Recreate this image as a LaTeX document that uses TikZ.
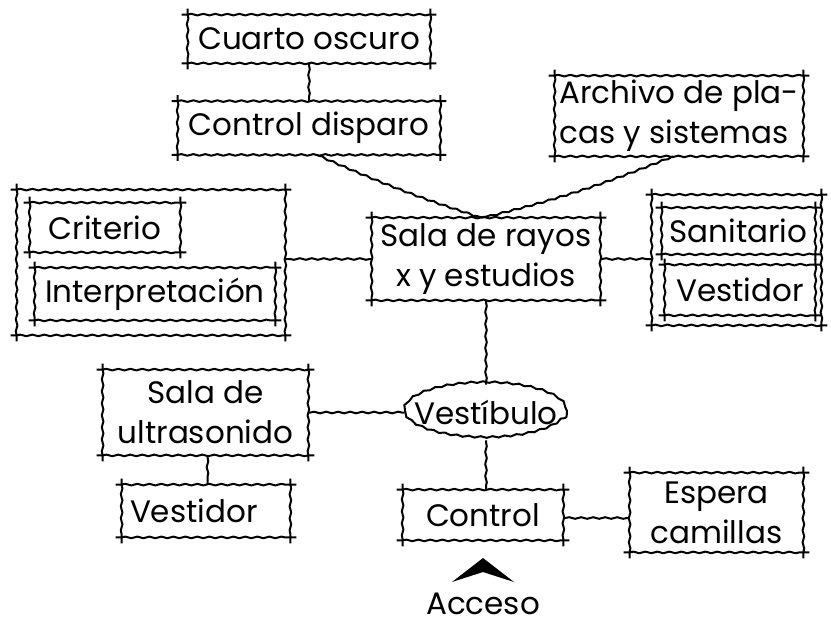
\documentclass[tikz,border=0pt]{standalone}
\usepackage{fontspec}
\setmainfont{Poppins}
\usetikzlibrary{decorations.pathmorphing}

\begin{document}
\begin{tikzpicture}[
  x=0.5pt, y=-0.5pt,
  wavy/.style={decorate, decoration={snake, amplitude=0.4pt, segment length=6pt, pre length=3pt, post length=3pt}, line width=1pt},
  link/.style={decorate, decoration={snake, amplitude=0.4pt, segment length=6pt, pre length=1pt, post length=1pt}, line width=1pt},
  room/.style={rectangle, inner sep=2pt, align=center, font=\fontsize{15.5}{20}\selectfont,
    append after command={
      \pgfextra{\let\fr=\tikzlastnode}
      ([xshift=-3pt]\fr.north west) edge[wavy] ([xshift=3pt]\fr.north east)
      ([xshift=-3pt]\fr.south west) edge[wavy] ([xshift=3pt]\fr.south east)
      ([yshift=3pt]\fr.north west) edge[wavy] ([yshift=-3pt]\fr.south west)
      ([yshift=3pt]\fr.north east) edge[wavy] ([yshift=-3pt]\fr.south east)
    }},
  label/.style={inner sep=2pt, font=\fontsize{15.5}{20}\selectfont},
]
  \useasboundingbox (0,0) rectangle (831,629);

  % top branch
  \node[room, minimum width=121pt, minimum height=24pt] (cuarto) at (309,39) {Cuarto oscuro};
  \node[room, minimum width=131pt, minimum height=26.5pt] (disparo) at (309,128) {Control disparo};
  \node[room, minimum width=124pt, minimum height=40pt, align=left] (archivo) at (679,116) {Archivo de pla-\\cas y sistemas};

  % central room
  \node[room, minimum width=114pt, minimum height=41pt] (rayos) at (486,259) {Sala de rayos\\x y estudios};

  % side groups
  \node[room, minimum width=134pt, minimum height=72.5pt] (lado1) at (151,262.5) {};
  \node[room, minimum width=75pt, minimum height=24.5pt] (criterio) at (105,227.5) {Criterio};
  \node[room, minimum width=120pt, minimum height=26pt] (interp) at (155,294) {Interpretación};
  \node[room, minimum width=84.5pt, minimum height=65pt] (lado2) at (736.5,260) {};
  \node[room, minimum width=76.5pt, minimum height=23pt] (sanitario) at (738.5,231) {Sanitario};
  \node[room, minimum width=75pt, minimum height=25pt] (vest2) at (740,290) {Vestidor};

  % lower part
  \node[label, minimum width=81pt, minimum height=27.5pt] (vestibulo) at (486,412.5) {Vestíbulo};
  \draw[link] (vestibulo.center) ellipse [x radius=40.5pt, y radius=13.75pt];
  \node[room, minimum width=102.5pt, minimum height=42.5pt] (ultra) at (205.5,412.5) {Sala de\\ultrasonido};
  \node[room, minimum width=84pt, minimum height=26pt, text width=76pt, align=left] (vest1) at (206,511) {Vestidor};
  \node[room, minimum width=80pt, minimum height=25pt] (control) at (483,515) {Control};
  \node[room, minimum width=86.5pt, minimum height=39.5pt] (espera) at (716.5,512.5) {Espera\\camillas};

  % connectors
  \coordinate (junta) at ([xshift=-2pt]rayos.north);
  \draw[link] (cuarto.south) -- (disparo.north);
  \draw[link] ([xshift=4pt]disparo.south) to[bend right=3] (junta);
  \draw[link] ([xshift=-3pt]archivo.south) to[bend left=4] (junta);
  \draw[link] (rayos.west) -- (lado1.east |- rayos.west);
  \draw[link] (rayos.east) -- (lado2.west |- rayos.east);
  \draw[link] (rayos.south) -- (vestibulo.north);
  \draw[link] (ultra.east) -- (vestibulo.west);
  \draw[link] ([xshift=1pt]ultra.south) -- ([xshift=1pt]ultra.south |- vest1.north);
  \draw[link] (vestibulo.south) -- (vestibulo.south |- control.north);
  \draw[link] ([yshift=-1.5pt]control.east) -- ([yshift=-1.5pt]control.east -| espera.west);

  % entrance
  \coordinate (puerta) at (483,558);
  \fill (puerta) -- ++(31,24) -- ++(-31,-10) -- ++(-31,10) -- cycle;
  \node[label, anchor=base, inner sep=0pt] (acceso) at (483,614) {Acceso};
\end{tikzpicture}
\end{document}
